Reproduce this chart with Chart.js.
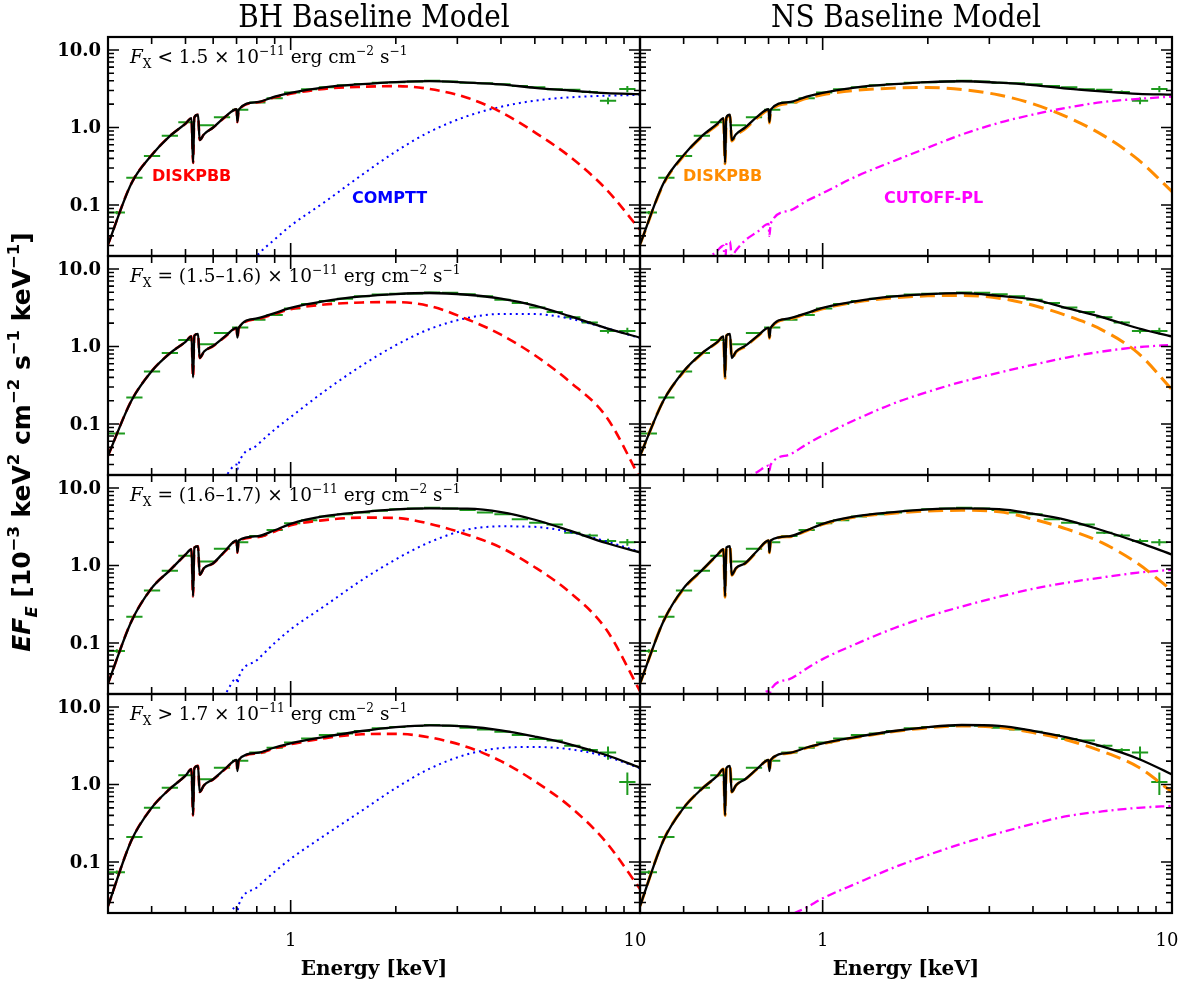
<!DOCTYPE html>
<html>
<head>
<meta charset="utf-8">
<script src="https://cdn.jsdelivr.net/npm/chart.js@4.4.1/dist/chart.umd.min.js"></script>
<style>
html, body { margin: 0; padding: 0; background: #fff; }
#wrap { position: relative; width: 1194px; height: 983px; }
#wrap canvas { position: absolute; left: 0; top: 0; }
</style>
</head>
<body>
<div id="wrap"></div>
<script>
// model grid (keV) -- points packed around the O edge (~0.53) and the 0.7 feature
const energyModel = [0.3, 0.35, 0.4, 0.45, 0.5, 0.52, 0.5256, 0.53, 0.543, 0.549, 0.565, 0.6, 0.65, 0.7, 0.704, 0.71,
  0.8, 0.9, 1.0, 1.25, 1.6, 2.0, 2.5, 3.2, 4.0, 5.0, 6.3, 8.0, 10];

// spectra bins (keV)
const energyData = [0.318, 0.357, 0.401, 0.451, 0.503, 0.572, 0.636, 0.717, 0.803, 0.9, 1.01, 1.13, 1.27, 1.43, 1.6,
  1.8, 2.02, 2.27, 2.54, 2.86, 3.21, 3.6, 4.04, 4.53, 5.08, 5.7, 6.4, 7.18, 8.1, 9.2];

// row 1 : Fx < 1.5
const bhTotal1 = [0.031, 0.19, 0.44, 0.77, 1.12, 1.32, 0.35, 1.35, 1.46, 0.69, 0.82, 1.0, 1.38, 1.72, 1.18, 1.70, 2.12, 2.5, 2.8, 3.3, 3.62, 3.85, 3.97, 3.8, 3.6, 3.25, 3.0, 2.78, 2.7];
const bhDisk1 = [0.031, 0.19, 0.44, 0.77, 1.12, 1.32, 0.35, 1.35, 1.46, 0.69, 0.82, 1.0, 1.37, 1.71, 1.17, 1.69, 2.1, 2.45, 2.72, 3.15, 3.35, 3.42, 3.14, 2.42, 1.58, 0.865, 0.42, 0.16, 0.048];
const bhComp1 = [0.0005, 0.0008, 0.0012, 0.0018, 0.0026, 0.003, 0.001, 0.003, 0.0032, 0.0016, 0.002, 0.0035, 0.006, 0.009, 0.007, 0.0095, 0.022, 0.036, 0.054, 0.109, 0.245, 0.49, 0.88, 1.4, 1.85, 2.22, 2.45, 2.57, 2.63];
const nsTotal1 = [0.031, 0.19, 0.44, 0.77, 1.12, 1.32, 0.35, 1.35, 1.46, 0.69, 0.82, 1.0, 1.38, 1.72, 1.18, 1.70, 2.12, 2.5, 2.8, 3.3, 3.62, 3.85, 3.95, 3.78, 3.52, 3.17, 2.92, 2.72, 2.65];
const nsDisk1 = [0.031, 0.185, 0.43, 0.75, 1.09, 1.29, 0.34, 1.32, 1.42, 0.67, 0.79, 0.96, 1.33, 1.66, 1.14, 1.64, 2.03, 2.38, 2.65, 3.02, 3.22, 3.28, 3.1, 2.62, 2.02, 1.37, 0.81, 0.385, 0.149];
const nsCut1 = [0.005, 0.008, 0.012, 0.017, 0.026, 0.030, 0.016, 0.031, 0.034, 0.022, 0.026, 0.035, 0.045, 0.057, 0.040, 0.058, 0.084, 0.113, 0.142, 0.235, 0.37, 0.55, 0.81, 1.15, 1.47, 1.80, 2.12, 2.34, 2.5];
const flux1 = [0.08, 0.225, 0.43, 0.78, 1.17, 1.07, 1.36, 1.69, 2.1, 2.39, 2.82, 3.11, 3.3, 3.5, 3.65, 3.78, 3.84, 3.91, 4.02, 3.91, 3.79, 3.72, 3.61, 3.44, 3.30, 3.11, 3.06, 2.88, 2.22, 3.14];
const err1 = [0.004, 0.008, 0.012, 0.02, 0.03, 0.03, 0.035, 0.04, 0.05, 0.05, 0.05, 0.05, 0.05, 0.05, 0.05, 0.05, 0.05, 0.05, 0.06, 0.06, 0.06, 0.07, 0.07, 0.08, 0.08, 0.09, 0.1, 0.12, 0.22, 0.3];

// row 2 : Fx = 1.5-1.6
const bhTotal2 = [0.039, 0.20, 0.48, 0.81, 1.15, 1.35, 0.40, 1.38, 1.45, 0.71, 0.86, 1.02, 1.36, 1.74, 1.30, 1.74, 2.3, 2.7, 3.14, 3.85, 4.42, 4.75, 4.9, 4.65, 4.14, 3.37, 2.46, 1.73, 1.30];
const bhDisk2 = [0.039, 0.20, 0.48, 0.81, 1.15, 1.35, 0.40, 1.38, 1.45, 0.71, 0.86, 1.01, 1.34, 1.71, 1.28, 1.71, 2.25, 2.62, 3.02, 3.48, 3.7, 3.74, 3.32, 2.25, 1.42, 0.77, 0.35, 0.125, 0.02];
const bhComp2 = [0.0008, 0.0013, 0.002, 0.003, 0.005, 0.006, 0.002, 0.006, 0.0065, 0.004, 0.006, 0.014, 0.021, 0.03, 0.026, 0.031, 0.053, 0.085, 0.123, 0.265, 0.57, 1.04, 1.68, 2.33, 2.63, 2.62, 2.29, 1.73, 1.28];
const nsTotal2 = [0.039, 0.20, 0.48, 0.81, 1.15, 1.35, 0.40, 1.38, 1.45, 0.71, 0.86, 1.02, 1.36, 1.74, 1.30, 1.74, 2.3, 2.7, 3.14, 3.85, 4.42, 4.75, 4.88, 4.5, 4.05, 3.12, 2.4, 1.72, 1.35];
const nsDisk2 = [0.039, 0.20, 0.47, 0.80, 1.14, 1.34, 0.39, 1.37, 1.44, 0.70, 0.85, 1.0, 1.34, 1.71, 1.28, 1.71, 2.25, 2.64, 3.07, 3.74, 4.24, 4.5, 4.55, 4.2, 3.4, 2.5, 1.64, 0.82, 0.277];
const nsCut2 = [0.004, 0.006, 0.008, 0.011, 0.014, 0.015, 0.01, 0.0155, 0.016, 0.012, 0.015, 0.02, 0.024, 0.029, 0.025, 0.03, 0.04, 0.055, 0.071, 0.115, 0.185, 0.26, 0.35, 0.46, 0.58, 0.72, 0.86, 0.98, 1.05];
const flux2 = [0.0755, 0.22, 0.475, 0.824, 1.21, 1.07, 1.49, 1.76, 2.21, 2.54, 3.09, 3.54, 3.85, 4.13, 4.45, 4.68, 4.78, 4.83, 4.98, 4.93, 4.73, 4.45, 4.01, 3.65, 3.19, 2.78, 2.38, 2.04, 1.59, 1.59];
const err2 = [0.004, 0.008, 0.012, 0.02, 0.03, 0.03, 0.035, 0.04, 0.05, 0.05, 0.05, 0.05, 0.05, 0.05, 0.05, 0.05, 0.05, 0.05, 0.06, 0.06, 0.06, 0.07, 0.07, 0.08, 0.08, 0.09, 0.1, 0.1, 0.12, 0.16];

// row 3 : Fx = 1.6-1.7
const bhTotal3 = [0.030, 0.19, 0.51, 0.86, 1.38, 1.62, 0.40, 1.70, 1.77, 0.76, 0.93, 1.07, 1.55, 2.1, 1.48, 2.1, 2.38, 2.85, 3.45, 4.33, 4.88, 5.28, 5.45, 5.4, 4.88, 3.89, 2.81, 1.95, 1.48];
const bhDisk3 = [0.030, 0.19, 0.51, 0.86, 1.38, 1.62, 0.40, 1.70, 1.77, 0.76, 0.93, 1.06, 1.53, 2.07, 1.46, 2.07, 2.32, 2.75, 3.3, 3.85, 4.15, 4.1, 3.45, 2.5, 1.7, 0.95, 0.45, 0.15, 0.024];
const bhComp3 = [0.0008, 0.0013, 0.002, 0.003, 0.005, 0.006, 0.002, 0.006, 0.0065, 0.004, 0.006, 0.014, 0.022, 0.035, 0.03, 0.036, 0.06, 0.1, 0.15, 0.3, 0.65, 1.2, 2.0, 2.9, 3.2, 3.15, 2.7, 2.05, 1.5];
const nsTotal3 = [0.030, 0.19, 0.51, 0.86, 1.38, 1.62, 0.40, 1.70, 1.77, 0.76, 0.93, 1.07, 1.55, 2.1, 1.48, 2.1, 2.38, 2.85, 3.45, 4.33, 4.88, 5.28, 5.45, 5.35, 4.65, 3.85, 2.85, 2.0, 1.38];
const nsDisk3 = [0.030, 0.19, 0.50, 0.85, 1.37, 1.61, 0.39, 1.69, 1.76, 0.75, 0.92, 1.06, 1.53, 2.08, 1.46, 2.08, 2.35, 2.8, 3.39, 4.23, 4.72, 5.05, 5.15, 4.95, 3.95, 2.95, 1.97, 1.05, 0.475];
const nsCut3 = [0.0025, 0.0035, 0.005, 0.0065, 0.008, 0.009, 0.006, 0.009, 0.0095, 0.007, 0.009, 0.012, 0.019, 0.024, 0.02, 0.025, 0.034, 0.047, 0.062, 0.098, 0.155, 0.22, 0.295, 0.395, 0.5, 0.6, 0.7, 0.81, 0.88];
const flux3 = [0.079, 0.218, 0.475, 0.857, 1.34, 1.13, 1.64, 2.0, 2.4, 2.87, 3.5, 3.83, 4.27, 4.59, 4.82, 5.07, 5.33, 5.44, 5.55, 5.44, 5.18, 4.82, 4.59, 3.95, 3.57, 3.37, 2.65, 2.44, 2.07, 2.0];
const err3 = [0.004, 0.008, 0.012, 0.02, 0.03, 0.03, 0.035, 0.04, 0.05, 0.05, 0.05, 0.05, 0.05, 0.05, 0.05, 0.05, 0.05, 0.05, 0.06, 0.06, 0.06, 0.07, 0.07, 0.08, 0.08, 0.09, 0.1, 0.12, 0.14, 0.2];

// row 4 : Fx > 1.7
const bhTotal4 = [0.027, 0.19, 0.50, 0.87, 1.3, 1.58, 0.40, 1.62, 1.74, 0.80, 0.98, 1.17, 1.6, 2.07, 1.49, 2.07, 2.55, 3.0, 3.4, 4.1, 4.9, 5.5, 5.8, 5.6, 5.0, 4.15, 3.3, 2.4, 1.65];
const bhDisk4 = [0.027, 0.19, 0.50, 0.87, 1.3, 1.58, 0.40, 1.62, 1.74, 0.80, 0.98, 1.16, 1.58, 2.04, 1.47, 2.04, 2.5, 2.93, 3.3, 3.95, 4.45, 4.5, 4.05, 3.05, 2.0, 1.1, 0.52, 0.18, 0.045];
const bhComp4 = [0.0006, 0.001, 0.0015, 0.0022, 0.0035, 0.004, 0.0015, 0.004, 0.0045, 0.003, 0.004, 0.009, 0.016, 0.027, 0.023, 0.028, 0.047, 0.075, 0.11, 0.22, 0.46, 0.9, 1.6, 2.45, 2.95, 3.05, 2.85, 2.3, 1.62];
const nsTotal4 = [0.027, 0.19, 0.50, 0.87, 1.3, 1.58, 0.40, 1.62, 1.74, 0.80, 0.98, 1.17, 1.6, 2.07, 1.49, 2.07, 2.55, 3.0, 3.4, 4.1, 4.9, 5.5, 5.85, 5.7, 4.93, 4.05, 3.1, 2.15, 1.35];
const nsDisk4 = [0.027, 0.19, 0.50, 0.87, 1.3, 1.58, 0.40, 1.62, 1.74, 0.80, 0.98, 1.16, 1.59, 2.06, 1.48, 2.06, 2.53, 2.97, 3.36, 4.05, 4.82, 5.38, 5.68, 5.45, 4.68, 3.75, 2.68, 1.68, 0.8];
const nsCut4 = [0.0015, 0.002, 0.003, 0.004, 0.005, 0.0055, 0.004, 0.0056, 0.006, 0.0045, 0.0055, 0.007, 0.009, 0.011, 0.009, 0.0115, 0.02, 0.026, 0.034, 0.053, 0.085, 0.123, 0.172, 0.237, 0.31, 0.39, 0.45, 0.5, 0.53];
const flux4 = [0.074, 0.21, 0.50, 0.906, 1.32, 1.17, 1.64, 2.02, 2.59, 2.98, 3.49, 3.93, 4.35, 4.56, 4.9, 5.3, 5.51, 5.68, 5.85, 5.74, 5.41, 5.14, 4.8, 4.35, 3.86, 3.7, 3.16, 2.78, 2.59, 1.08];
const err4 = [0.004, 0.008, 0.012, 0.02, 0.03, 0.03, 0.035, 0.04, 0.05, 0.05, 0.05, 0.05, 0.05, 0.05, 0.05, 0.05, 0.05, 0.05, 0.06, 0.06, 0.06, 0.07, 0.07, 0.08, 0.09, 0.1, 0.12, 0.15, 0.5, 0.35];

const fluxBins = ['< 1.5', '= (1.5\u20131.6)', '= (1.6\u20131.7)', '> 1.7'];

// ticks
const xMajorTicks = [1, 10];
const xTickLabels = ['1', '10'];
const xMinorTicks = [0.4, 0.5, 0.6, 0.7, 0.8, 0.9, 2, 3, 4, 5, 6, 7, 8, 9];
const yMajorTicks = [0.1, 1, 10];
const yTickLabels = ['0.1', '1.0', '10.0'];
const yMinorTicks = [0.03, 0.04, 0.05, 0.06, 0.07, 0.08, 0.09, 0.2, 0.3, 0.4, 0.5, 0.6, 0.7, 0.8, 0.9, 2, 3, 4, 5, 6, 7, 8, 9];

const rows = [
  { bh: [bhTotal1, bhDisk1, bhComp1], ns: [nsTotal1, nsDisk1, nsCut1], flux: flux1, err: err1 },
  { bh: [bhTotal2, bhDisk2, bhComp2], ns: [nsTotal2, nsDisk2, nsCut2], flux: flux2, err: err2 },
  { bh: [bhTotal3, bhDisk3, bhComp3], ns: [nsTotal3, nsDisk3, nsCut3], flux: flux3, err: err3 },
  { bh: [bhTotal4, bhDisk4, bhComp4], ns: [nsTotal4, nsDisk4, nsCut4], flux: flux4, err: err4 },
];

// layout
const W = 1194, H = 983;
const colEdges = [[108, 640], [640, 1172]];
const rowEdges = [[37, 256], [256, 475], [475, 694], [694, 913]];
const binRatio = 1.055;
const SERIF = '"DejaVu Serif", serif';
const SANS = '"DejaVu Sans", sans-serif';

function curve(values) {
  return energyModel.map((e, i) => ({ x: e, y: values[i] }));
}

function richText(ctx, x, y, parts, size, family, weight, align) {
  const fontOf = p => (p.i ? 'italic ' : '') + weight + ' ' + (p.s ? size * 0.66 : size) + 'px ' + family;
  let w = 0;
  parts.forEach(p => { ctx.font = fontOf(p); w += ctx.measureText(p.t).width; });
  let cx = align === 'center' ? x - w / 2 : x;
  ctx.textAlign = 'left';
  ctx.textBaseline = 'alphabetic';
  parts.forEach(p => {
    ctx.font = fontOf(p);
    const dy = p.s === 'sup' ? -size * 0.45 : p.s === 'sub' ? size * 0.28 : 0;
    ctx.fillText(p.t, cx, y + dy);
    cx += ctx.measureText(p.t).width;
  });
}

const panelFrame = {
  id: 'panelFrame',
  beforeDatasetsDraw(chart) {
    const { ctx, chartArea: a } = chart;
    const xs = chart.scales.x, ys = chart.scales.y;
    chart.data.datasets.forEach((ds, i) => {
      if (!ds.yErr) return;
      const meta = chart.getDatasetMeta(i);
      ctx.save();
      ctx.beginPath();
      ctx.rect(a.left, a.top, a.right - a.left, a.bottom - a.top);
      ctx.clip();
      ctx.strokeStyle = ds.borderColor;
      ctx.lineWidth = 2;
      ctx.beginPath();
      meta.data.forEach((pt, j) => {
        const d = ds.data[j];
        ctx.moveTo(xs.getPixelForValue(d.x / binRatio), pt.y);
        ctx.lineTo(xs.getPixelForValue(d.x * binRatio), pt.y);
        ctx.moveTo(pt.x, ys.getPixelForValue(d.y + ds.yErr[j]));
        ctx.lineTo(pt.x, ys.getPixelForValue(d.y - ds.yErr[j]));
      });
      ctx.stroke();
      ctx.restore();
    });
  },
  afterDraw(chart, args, opts) {
    const { ctx, chartArea: a } = chart;
    const xs = chart.scales.x, ys = chart.scales.y;
    ctx.save();
    ctx.strokeStyle = '#000';
    ctx.fillStyle = '#000';
    ctx.lineWidth = 1.6;
    ctx.beginPath();
    const yTick = (v, len) => {
      const p = ys.getPixelForValue(v);
      ctx.moveTo(a.left, p); ctx.lineTo(a.left + len, p);
      ctx.moveTo(a.right, p); ctx.lineTo(a.right - len, p);
    };
    const xTick = (v, len) => {
      const p = xs.getPixelForValue(v);
      ctx.moveTo(p, a.top); ctx.lineTo(p, a.top + len);
      ctx.moveTo(p, a.bottom); ctx.lineTo(p, a.bottom - len);
    };
    yMinorTicks.forEach(v => yTick(v, 6));
    yMajorTicks.forEach(v => yTick(v, 11));
    xMinorTicks.forEach(v => xTick(v, 7));
    xMajorTicks.forEach(v => xTick(v, 13));
    ctx.stroke();
    ctx.lineWidth = 2.2;
    ctx.strokeRect(a.left, a.top, a.right - a.left, a.bottom - a.top);

    // tick labels
    if (opts.col === 0) {
      ctx.font = 'bold 18px ' + SERIF;
      ctx.textAlign = 'right';
      ctx.textBaseline = 'middle';
      yMajorTicks.forEach((v, i) => ctx.fillText(yTickLabels[i], a.left - 7, ys.getPixelForValue(v) + 1));
    }
    const cx = (a.left + a.right) / 2;
    if (opts.row === 3) {
      ctx.font = '18px ' + SERIF;
      ctx.textAlign = 'center';
      ctx.textBaseline = 'alphabetic';
      xMajorTicks.forEach((v, i) => ctx.fillText(xTickLabels[i], xs.getPixelForValue(v) - (v === 10 ? 5 : 0), a.bottom + 33));
      ctx.font = 'bold 20px ' + SERIF;
      ctx.fillText('Energy [keV]', cx, a.bottom + 62);
    }
    if (opts.row === 0) {
      ctx.font = '31px "DejaVu Serif Condensed", ' + SERIF;
      ctx.textAlign = 'center';
      ctx.textBaseline = 'alphabetic';
      ctx.fillText(opts.col === 0 ? 'BH Baseline Model' : 'NS Baseline Model', cx, 27);
      ctx.font = 'bold 16px ' + SANS;
      ctx.textAlign = 'left';
      ctx.textBaseline = 'middle';
      if (opts.col === 0) {
        ctx.fillStyle = '#ff0000';
        ctx.fillText('DISKPBB', a.left + 44, a.top + 140);
        ctx.fillStyle = '#0000ff';
        ctx.fillText('COMPTT', a.left + 244, a.top + 162);
      } else {
        ctx.fillStyle = '#ff8c00';
        ctx.fillText('DISKPBB', a.left + 43, a.top + 140);
        ctx.fillStyle = '#ff00ff';
        ctx.fillText('CUTOFF-PL', a.left + 244, a.top + 162);
      }
      ctx.fillStyle = '#000';
    }
    // flux bin annotation
    if (opts.col === 0) {
      richText(ctx, a.left + 22, a.top + 26, [
        { t: 'F', i: true }, { t: 'X', s: 'sub' }, { t: ' ' + fluxBins[opts.row] + ' \u00d7 10' },
        { t: '\u221211', s: 'sup' }, { t: ' erg cm' }, { t: '\u22122', s: 'sup' }, { t: ' s' }, { t: '\u22121', s: 'sup' }
      ], 18.5, SERIF, 'normal', 'left');
    }
    // y axis title
    if (opts.row === 0 && opts.col === 0) {
      ctx.save();
      ctx.translate(21, 442);
      ctx.rotate(-Math.PI / 2);
      richText(ctx, 0, 9, [
        { t: 'EF', i: true }, { t: 'E', i: true, s: 'sub' }, { t: ' [10' }, { t: '\u22123', s: 'sup' },
        { t: ' keV' }, { t: '2', s: 'sup' }, { t: ' cm' }, { t: '\u22122', s: 'sup' }, { t: ' s' },
        { t: '\u22121', s: 'sup' }, { t: ' keV' }, { t: '\u22121', s: 'sup' }, { t: ']' }
      ], 25, SANS, 'bold', 'center');
      ctx.restore();
    }
    ctx.restore();
  }
};

const wrap = document.getElementById('wrap');

function makePanel(r, c) {
  const cv = document.createElement('canvas');
  cv.width = W; cv.height = H;
  wrap.appendChild(cv);
  const row = rows[r];
  const model = c === 0 ? row.bh : row.ns;
  const line = (vals, color, width, dash) => ({
    data: curve(vals), showLine: true, borderColor: color, borderWidth: width,
    borderDash: dash, pointRadius: 0, cubicInterpolationMode: 'monotone', fill: false
  });
  const datasets = [
    line(model[0], '#000000', 2.3, []),
    c === 0 ? line(model[1], '#ff0000', 2.6, [10, 6]) : line(model[1], '#ff8c00', 3, [15, 7]),
    c === 0 ? line(model[2], '#0000ff', 2, [2, 4]) : line(model[2], '#ff00ff', 2.3, [9, 4, 2, 4]),
    {
      data: energyData.map((e, i) => ({ x: e, y: row.flux[i] })),
      yErr: row.err, borderColor: '#1e9a1e', showLine: false, pointRadius: 0
    }
  ];
  new Chart(cv, {
    type: 'scatter',
    data: { datasets },
    options: {
      responsive: false,
      animation: false,
      events: [],
      layout: { padding: { left: colEdges[c][0], right: W - colEdges[c][1], top: rowEdges[r][0], bottom: H - rowEdges[r][1] } },
      scales: {
        x: { type: 'logarithmic', min: 0.3, max: 10, display: false },
        y: { type: 'logarithmic', min: 0.022, max: 14.7, display: false }
      },
      plugins: {
        legend: { display: false },
        tooltip: { enabled: false },
        panelFrame: { row: r, col: c }
      }
    },
    plugins: [panelFrame]
  });
}

for (let r = 0; r < 4; r++) {
  for (let c = 0; c < 2; c++) makePanel(r, c);
}
</script>
</body>
</html>
